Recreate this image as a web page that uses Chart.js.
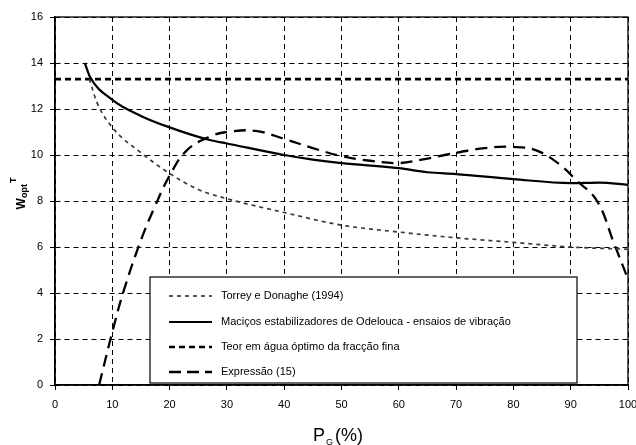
<!DOCTYPE html>
<html>
<head>
<meta charset="utf-8">
<script src="https://cdn.jsdelivr.net/npm/chart.js@4/dist/chart.umd.min.js"></script>
<style>
    body { margin: 0; background: #fff; }
    #wrap { width: 636px; height: 445px; }
</style>
</head>
<body>
<div id="wrap"><canvas id="chart_wopt" width="636" height="445"></canvas></div>
<script>
// series values
var torrey_x = [6, 7.3, 10, 15, 20, 25, 30, 40, 50, 60, 70, 80, 90, 100];
var torrey_y = [13.3, 12.3, 11.2, 10.1, 9.2, 8.5, 8.1, 7.5, 6.95, 6.65, 6.4, 6.2, 6.0, 5.9];

var macicos_x = [5.2, 6.1, 10, 15, 20, 27, 30, 40, 45, 50, 60, 65, 70, 80, 90, 95, 100];
var macicos_y = [14.0, 13.4, 12.4, 11.7, 11.2, 10.65, 10.5, 10.0, 9.8, 9.65, 9.43, 9.25, 9.17, 8.95, 8.78, 8.8, 8.7];

var teor_x = [0, 100];
var teor_y = [13.3, 13.3];

var expressao_x = [7.7, 10, 12, 15, 17.5, 20, 23, 27, 30, 35, 40, 45, 50, 55, 60, 64, 68, 75, 80, 84, 88, 91, 94.6, 97.5, 100];
var expressao_y = [0, 2.3, 4.1, 6.3, 7.8, 9.1, 10.2, 10.8, 11.0, 11.05, 10.7, 10.3, 9.95, 9.75, 9.65, 9.8, 10.0, 10.3, 10.35, 10.2, 9.6, 8.9, 8.0, 6.2, 4.6];

var series_names = [
    "Torrey e Donaghe (1994)",
    "Maciços estabilizadores de Odelouca - ensaios de vibração",
    "Teor em água óptimo da fracção fina",
    "Expressão (15)"
];

var x_ticks = [0, 10, 20, 30, 40, 50, 60, 70, 80, 90, 100];
var y_ticks = [0, 2, 4, 6, 8, 10, 12, 14, 16];

function toPoints(xs, ys) {
    var pts = [];
    for (var i = 0; i < xs.length; i++) {
        pts.push({ x: xs[i], y: ys[i] });
    }
    return pts;
}

var FONT = "'Liberation Sans', Arial, sans-serif";
var NARROW = "'Liberation Sans Narrow', 'Liberation Sans', Arial, sans-serif";
var GRID_DASH = [5, 4];

// box round the plot, legend and axis titles
var extras = {
    id: 'extras',
    beforeDatasetsDraw: function (chart) {
        var a = chart.chartArea, ctx = chart.ctx;
        ctx.save();
        ctx.strokeStyle = '#000';
        ctx.lineWidth = 1.3;
        ctx.setLineDash([]);
        ctx.strokeRect(a.left, a.top, a.right - a.left, a.bottom - a.top);
        ctx.restore();
    },
    afterDatasetsDraw: function (chart) {
        var ctx = chart.ctx;
        var bx = 150, by = 277, bw = 427, bh = 106;
        ctx.save();
        ctx.fillStyle = '#fff';
        ctx.fillRect(bx, by, bw, bh);
        ctx.strokeStyle = '#000';
        ctx.lineWidth = 1.2;
        ctx.setLineDash([]);
        ctx.strokeRect(bx, by, bw, bh);
        var rows = [296, 322, 347, 372];
        ctx.font = '11px ' + FONT;
        ctx.textBaseline = 'middle';
        chart.data.datasets.forEach(function (ds, i) {
            ctx.strokeStyle = ds.borderColor;
            ctx.lineWidth = ds.borderWidth;
            ctx.setLineDash(ds.legendDash || ds.borderDash || []);
            ctx.beginPath();
            ctx.moveTo(169, rows[i]);
            ctx.lineTo(212, rows[i]);
            ctx.stroke();
            ctx.fillStyle = '#000';
            ctx.fillText(ds.label, 221, rows[i]);
        });
        ctx.restore();
    },
    afterDraw: function (chart) {
        var ctx = chart.ctx;
        ctx.save();
        ctx.fillStyle = '#000';
        ctx.textBaseline = 'alphabetic';
        // y title: W opt ^T
        ctx.translate(25, 194);
        ctx.rotate(-Math.PI / 2);
        ctx.font = 'bold 12px ' + FONT;
        var wW = ctx.measureText('W').width;
        ctx.font = 'bold 9px ' + FONT;
        var wOpt = ctx.measureText('opt').width;
        var wT = ctx.measureText('T').width;
        var x0 = -(wW + wOpt + wT) / 2;
        ctx.font = 'bold 12px ' + FONT;
        ctx.fillText('W', x0, 0);
        ctx.font = 'bold 9px ' + FONT;
        ctx.fillText('opt', x0 + wW, 2);
        ctx.fillText('T', x0 + wW + wOpt + 1, -9);
        ctx.restore();

        // x title: P_G (%)
        ctx.save();
        ctx.fillStyle = '#000';
        ctx.textBaseline = 'alphabetic';
        ctx.font = '18px ' + NARROW;
        var wP = ctx.measureText('P').width;
        ctx.fillText('P', 313, 441);
        ctx.font = '9px ' + NARROW;
        ctx.fillText('G', 313 + wP + 1, 445);
        ctx.font = '18px ' + NARROW;
        ctx.fillText('(%)', 335, 441);
        ctx.restore();
    }
};

var ctx = document.getElementById("chart_wopt");
new Chart(ctx, {
    type: 'line',
    data: {
        datasets: [{
            label: series_names[0],
            data: toPoints(torrey_x, torrey_y),
            borderColor: '#3a3a3a',
            borderWidth: 1.7,
            borderDash: [4, 4],
            cubicInterpolationMode: 'monotone',
        }, {
            label: series_names[1],
            data: toPoints(macicos_x, macicos_y),
            borderColor: '#000',
            borderWidth: 2.2,
            borderDash: [],
            cubicInterpolationMode: 'monotone',
        }, {
            label: series_names[2],
            data: toPoints(teor_x, teor_y),
            borderColor: '#000',
            borderWidth: 2.6,
            borderDash: [6, 4],
        }, {
            label: series_names[3],
            data: toPoints(expressao_x, expressao_y),
            borderColor: '#000',
            borderWidth: 2.3,
            borderDash: [12, 7],
            legendDash: [12, 6],
            tension: 0.4,
        }]
    },
    plugins: [extras],
    options: {
        responsive: false,
        animation: false,
        elements: {
            point: { radius: 0 },
        },
        layout: {
            padding: { left: 0, top: 17, right: 0, bottom: 0 },
        },
        plugins: {
            legend: { display: false },
            tooltip: { enabled: false },
        },
        scales: {
            x: {
                type: 'linear',
                min: 0,
                max: 100,
                afterFit: function (s) { s.height = 60; s.paddingRight = 8; },
                afterBuildTicks: function (s) { s.ticks = x_ticks.map(function (v) { return { value: v }; }); },
                ticks: {
                    padding: 8,
                    color: '#000',
                    font: { family: FONT, size: 11 },
                },
                grid: {
                    color: '#000',
                    lineWidth: 1,
                    tickLength: 5,
                    tickColor: '#000',
                    borderDash: GRID_DASH,
                },
                border: {
                    display: true,
                    color: '#000',
                    width: 1.5,
                    dash: GRID_DASH,
                },
            },
            y: {
                min: 0,
                max: 16,
                afterFit: function (s) { s.width = 55; },
                afterBuildTicks: function (s) { s.ticks = y_ticks.map(function (v) { return { value: v }; }); },
                ticks: {
                    padding: 7,
                    color: '#000',
                    font: { family: FONT, size: 11 },
                },
                grid: {
                    color: '#000',
                    lineWidth: 1,
                    tickLength: 5,
                    tickColor: '#000',
                    borderDash: GRID_DASH,
                },
                border: {
                    display: true,
                    color: '#000',
                    width: 1.5,
                    dash: GRID_DASH,
                },
            }
        },
    }
});
</script>
</body>
</html>
